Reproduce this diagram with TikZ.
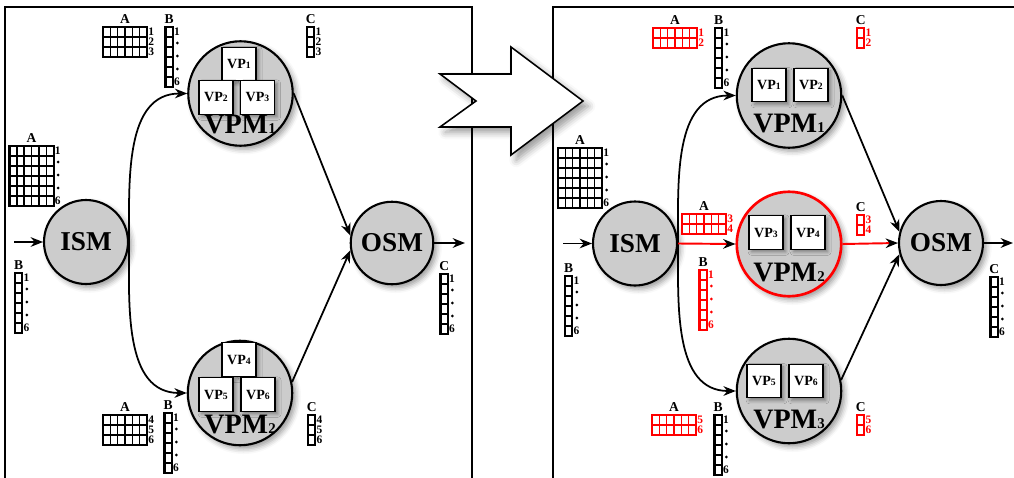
\documentclass[tikz,border=0pt]{standalone}
\usepackage{fontspec}
\setmainfont{Liberation Serif}
\usetikzlibrary{arrows.meta,shadows.blur}

\newcommand{\cellw}{7.35}
\newcommand{\cellh}{10}
\newcommand{\vsub}[1]{{\fontsize{8.5}{9}\selectfont #1}}
\newcommand{\psub}[1]{{\fontsize{5.5}{6}\selectfont #1}}

% block of cells, one number per row
\newcommand{\numblock}[8]{%
  \foreach \n [count=\rw] in {#8}{%
    \foreach \cl in {1,...,#4}
      \draw[cell,#6] ({#2+(\cl-1)*\cellw},{#3-(\rw-1)*\cellh}) rectangle ++(\cellw,-\cellh);
    \node[rowno,text=#6] (#1-\rw) at ({#2+#4*\cellw},{#3-(\rw-0.5)*\cellh}) {\n};
  }
  \draw[cellframe,#6] (#2,#3) rectangle ++({#4*\cellw},{-#5*\cellh});
  \node[blocklab] (#1-h) at ({#2+#4*\cellw/2},{#3+4}) {#7};
}
% six rows, numbered 1 ... 6
\newcommand{\tallblock}[6]{%
  \foreach \rw in {1,...,6}{%
    \foreach \cl in {1,...,#4}
      \draw[cell,#5] ({#2+(\cl-1)*\cellw},{#3-(\rw-1)*\cellh}) rectangle ++(\cellw,-\cellh);
  }
  \draw[cellframe,#5] (#2,#3) rectangle ++({#4*\cellw},{-6*\cellh});
  \node[rowno,text=#5] (#1-1) at ({#2+#4*\cellw},{#3-0.5*\cellh}) {1};
  \node[rowno,text=#5] (#1-6) at ({#2+#4*\cellw},{#3-5.5*\cellh}) {6};
  \foreach \d in {1,2,3}
    \fill[#5] ({#2+#4*\cellw+4.5},{#3-3-\d*13}) circle (0.9pt);
  \node[blocklab] (#1-h) at ({#2+#4*\cellw/2},{#3+4}) {#6};
}

\begin{document}
\begin{tikzpicture}[x=0.02cm,y=0.02cm,>={Stealth[length=7pt,width=5.5pt]},
  frame/.style={line width=1.3pt},
  conn/.style={line width=1pt},
  redconn/.style={line width=1.1pt,red,-{Stealth[length=7pt,width=5.5pt,black]}},
  module/.style={circle,draw,line width=1.2pt,fill=gray!40,inner sep=0pt,
    font=\bfseries\fontsize{15.5}{16}\selectfont,
    blur shadow={shadow xshift=2pt,shadow yshift=-2pt,shadow blur radius=3pt}},
  vpm/.style={module,minimum size=2.09cm},
  vpmlab/.style={anchor=base,inner sep=0pt,font=\bfseries\fontsize{16}{17}\selectfont},
  vpbox/.style={rectangle,draw,fill=white,line width=0.7pt,inner sep=0pt,
    minimum width=0.68cm,minimum height=0.67cm,font=\bfseries\fontsize{8}{9}\selectfont,
    blur shadow={shadow xshift=1.5pt,shadow yshift=-1.5pt,shadow blur radius=2pt}},
  cell/.style={line width=0.8pt},
  cellframe/.style={line width=1.2pt},
  rowno/.style={anchor=west,inner sep=0.5pt,font=\bfseries\fontsize{6.5}{6.5}\selectfont},
  blocklab/.style={anchor=base,inner sep=0pt,font=\bfseries\fontsize{7.7}{8}\selectfont},
  bigarrow/.style={draw,fill=white,line width=0.9pt,
    blur shadow={shadow xshift=3pt,shadow yshift=-3pt,shadow blur radius=4pt}}]
  \useasboundingbox (0,0) rectangle (1014,-477);
  \clip (0,0) rectangle (1014,-477);

  % panels
  \draw[frame] (5,-480) -- (5,-7) -- (472,-7) -- (472,-480);
  \draw[frame] (553,-480) -- (553,-7) -- (1020,-7);
  \draw[bigarrow] (440,-74) -- (511,-74) -- (511,-47) -- (583,-101) -- (511,-155)
    -- (511,-127) -- (440,-127) -- (476,-101) -- cycle;

  % left: before
  \node[module,minimum size=1.68cm] (ism1) at (86,-242) {ISM};
  \node[module,minimum size=1.65cm] (osm1) at (392,-243) {OSM};
  \node[vpm] (vpm1a) at (240.5,-93.5) {};
  \node[vpm] (vpm2a) at (240,-393) {};
  \node[vpmlab] (vpm1a-t) at (240,-133) {VPM\vsub{1}};
  \node[vpmlab] (vpm2a-t) at (240,-433) {VPM\vsub{2}};
  \node[vpbox] (vp1a) at (239,-64) {VP\psub{1}};
  \node[vpbox] (vp2a) at (216,-97.5) {VP\psub{2}};
  \node[vpbox] (vp3a) at (257.5,-97.5) {VP\psub{3}};
  \node[vpbox] (vp4a) at (239,-359.5) {VP\psub{4}};
  \node[vpbox] (vp5a) at (216,-394.5) {VP\psub{5}};
  \node[vpbox] (vp6a) at (258,-394.5) {VP\psub{6}};
  \coordinate (in1) at (14,-242);
  \coordinate (out1) at (465,-243);

  \draw[conn,->] (in1) -- (ism1);
  \draw[conn,->] (ism1.east) to[out=90,in=180] (vpm1a.west);
  \draw[conn,->] (ism1.east) to[out=-90,in=180] (vpm2a.west);
  \draw[conn,->] (vpm1a.east) -- (osm1.170);
  \draw[conn,->] (vpm2a.12) -- (osm1.190);
  \draw[conn,->] (osm1) -- (out1);

  \numblock{lA1}{103}{-27}{6}{3}{black}{A}{1,2,3}
  \tallblock{lB1}{165.5}{-27}{1}{black}{B}
  \numblock{lC1}{307}{-27}{1}{3}{black}{C}{1,2,3}
  \tallblock{lA2}{9.5}{-146}{6}{black}{A}
  \tallblock{lB2}{15}{-273}{1}{black}{B}
  \numblock{lA3}{103}{-415}{6}{3}{black}{A}{4,5,6}
  \tallblock{lB3}{164.5}{-413}{1}{black}{B}
  \numblock{lC3}{308}{-415}{1}{3}{black}{C}{4,5,6}
  \tallblock{lC2}{440.5}{-274}{1}{black}{C}

  % right: after
  \node[module,minimum size=1.68cm] (ism2) at (635,-243.5) {ISM};
  \node[module,minimum size=1.68cm] (osm2) at (941,-243) {OSM};
  \node[vpm] (vpm1b) at (789,-95.5) {};
  \node[vpm,draw=red,line width=1.5pt] (vpm2b) at (789,-244) {};
  \node[vpm] (vpm3b) at (789,-391) {};
  \node[vpmlab] (vpm1b-t) at (789,-132) {VPM\vsub{1}};
  \node[vpmlab] (vpm2b-t) at (789,-281) {VPM\vsub{2}};
  \node[vpmlab] (vpm3b-t) at (789,-428) {VPM\vsub{3}};
  \node[vpbox] (vp1b) at (769,-85) {VP\psub{1}};
  \node[vpbox] (vp2b) at (811,-85) {VP\psub{2}};
  \node[vpbox] (vp3b) at (766,-232.5) {VP\psub{3}};
  \node[vpbox] (vp4b) at (808,-232.5) {VP\psub{4}};
  \node[vpbox] (vp5b) at (764,-381) {VP\psub{5}};
  \node[vpbox] (vp6b) at (806,-381) {VP\psub{6}};
  \coordinate (in2) at (563,-243.5);
  \coordinate (out2) at (1013,-243);

  \draw[conn,->] (in2) -- (ism2);
  \draw[conn,->] (ism2.east) to[out=90,in=180] (vpm1b.west);
  \draw[conn,->] (ism2.east) to[out=-90,in=180] (vpm3b.west);
  \draw[redconn] (ism2.east) -- (vpm2b.west);
  \draw[conn,->] (vpm1b.east) -- (osm2.165);
  \draw[redconn] (vpm2b.east) -- (osm2.west);
  \draw[conn,->] (vpm3b.12) -- (osm2.195);
  \draw[conn,->] (osm2) -- (out2);

  \numblock{rA1}{653}{-28}{6}{2}{red}{A}{1,2}
  \tallblock{rB1}{715}{-28}{1}{black}{B}
  \numblock{rC1}{857}{-28}{1}{2}{red}{C}{1,2}
  \tallblock{rA2}{558}{-148}{6}{black}{A}
  \tallblock{rB2}{565}{-276}{1}{black}{B}
  \numblock{rA3}{682}{-214}{6}{2}{red}{A}{3,4}
  \tallblock{rB3}{699.5}{-270}{1}{red}{B}
  \numblock{rC3}{857}{-215}{1}{2}{red}{C}{3,4}
  \tallblock{rC2}{990.5}{-277}{1}{black}{C}
  \numblock{rA4}{652}{-415}{6}{2}{red}{A}{5,6}
  \tallblock{rB4}{714.5}{-415}{1}{black}{B}
  \numblock{rC4}{857}{-415}{1}{2}{red}{C}{5,6}
\end{tikzpicture}
\end{document}
